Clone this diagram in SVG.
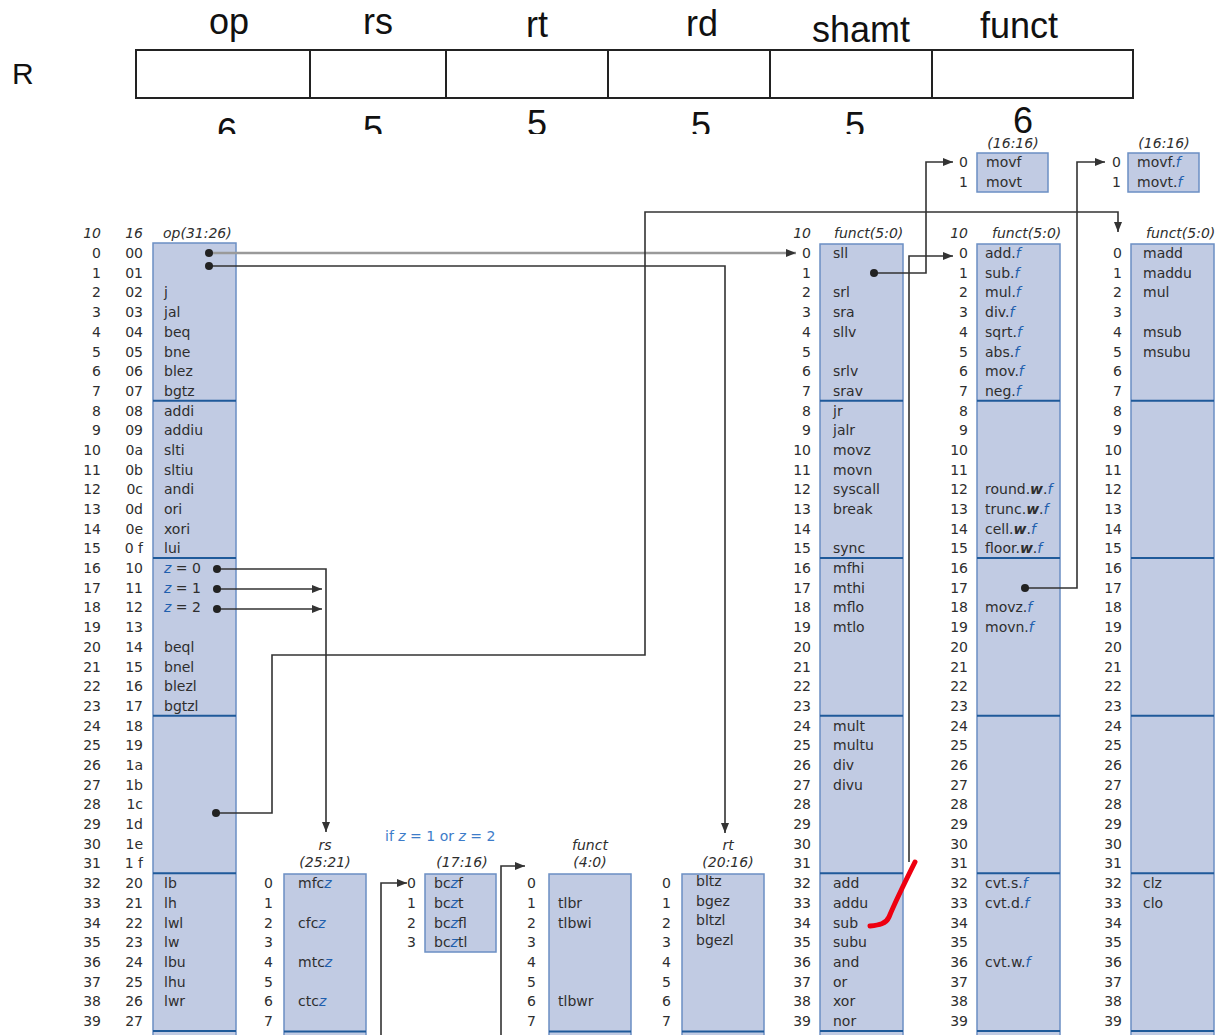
<svg xmlns="http://www.w3.org/2000/svg" width="1215" height="1035" viewBox="0 0 1215 1035">
<defs>
<style>
.t{font-family:"DejaVu Sans","Liberation Sans",sans-serif;font-size:14px;fill:#2e2e2e}
.n{font-family:"DejaVu Sans","Liberation Sans",sans-serif;font-size:14px;fill:#2e2e2e;text-anchor:end}
.h{font-family:"DejaVu Sans","Liberation Sans",sans-serif;font-size:14px;fill:#2e2e2e;font-style:italic}
.m{text-anchor:middle}
.b{fill:#1f5fae;font-style:italic}
.w{font-weight:bold;font-style:italic}
.box{fill:#c1cbe3;stroke:#6b8fc4;stroke-width:1.5}
.dv{stroke:#1f5a9a;stroke-width:2}
.c{fill:none;stroke:#333;stroke-width:1.6}
.big{font-family:"Liberation Sans",Arial,sans-serif;font-size:36px;fill:#111;text-anchor:middle}
</style>
<marker id="ah" viewBox="0 0 10 8" refX="10" refY="4" markerWidth="11" markerHeight="8" orient="auto" markerUnits="userSpaceOnUse"><path d="M0,0 L10,4 L0,8 z" fill="#333"/></marker>
<clipPath id="clipHead"><rect x="0" y="0" width="1215" height="134"/></clipPath>
</defs>
<rect width="1215" height="1035" fill="#fff"/>

<g id="format-R">
<text x="12" y="84" font-family="Liberation Sans, Arial, sans-serif" font-size="30" fill="#111">R</text>
<rect x="136" y="50" width="997" height="48" fill="#fff" stroke="#222" stroke-width="2"/>
<path d="M310,50V98M446,50V98M608,50V98M770,50V98M932,50V98" stroke="#222" stroke-width="2"/>
<text class="big" x="229" y="34">op</text>
<text class="big" x="378" y="34">rs</text>
<text class="big" x="537" y="37">rt</text>
<text class="big" x="702" y="36">rd</text>
<text class="big" x="861" y="42">shamt</text>
<text class="big" x="1019" y="38">funct</text>
<g clip-path="url(#clipHead)">
<text class="big" x="227" y="144">6</text>
<text class="big" x="373" y="142">5</text>
<text class="big" x="537" y="136">5</text>
<text class="big" x="701" y="138">5</text>
<text class="big" x="855" y="138">5</text>
<text class="big" x="1023" y="133">6</text>
</g>
</g>

<g id="op-table">
<rect class="box" x="153" y="243" width="83" height="800"/>
<path class="dv" d="M153,400.7H236M153,558H236M153,715.8H236M153,873.3H236M153,1031H236"/>
<text class="h n" x="101" y="238">10</text>
<text class="h n" x="143" y="238">16</text>
<text class="h" x="163" y="238">op(31:26)</text>
<text class="n"><tspan x="101" y="258">0</tspan><tspan x="101" y="277.7">1</tspan><tspan x="101" y="297.4">2</tspan><tspan x="101" y="317.1">3</tspan><tspan x="101" y="336.8">4</tspan><tspan x="101" y="356.5">5</tspan><tspan x="101" y="376.1">6</tspan><tspan x="101" y="395.8">7</tspan><tspan x="101" y="415.5">8</tspan><tspan x="101" y="435.2">9</tspan><tspan x="101" y="454.9">10</tspan><tspan x="101" y="474.6">11</tspan><tspan x="101" y="494.3">12</tspan><tspan x="101" y="514">13</tspan><tspan x="101" y="533.7">14</tspan><tspan x="101" y="553.4">15</tspan><tspan x="101" y="573">16</tspan><tspan x="101" y="592.7">17</tspan><tspan x="101" y="612.4">18</tspan><tspan x="101" y="632.1">19</tspan><tspan x="101" y="651.8">20</tspan><tspan x="101" y="671.5">21</tspan><tspan x="101" y="691.2">22</tspan><tspan x="101" y="710.9">23</tspan><tspan x="101" y="730.6">24</tspan><tspan x="101" y="750.3">25</tspan><tspan x="101" y="769.9">26</tspan><tspan x="101" y="789.6">27</tspan><tspan x="101" y="809.3">28</tspan><tspan x="101" y="829">29</tspan><tspan x="101" y="848.7">30</tspan><tspan x="101" y="868.4">31</tspan><tspan x="101" y="888.1">32</tspan><tspan x="101" y="907.8">33</tspan><tspan x="101" y="927.5">34</tspan><tspan x="101" y="947.2">35</tspan><tspan x="101" y="966.8">36</tspan><tspan x="101" y="986.5">37</tspan><tspan x="101" y="1006.2">38</tspan><tspan x="101" y="1025.9">39</tspan></text>
<text class="n"><tspan x="143" y="258">00</tspan><tspan x="143" y="277.7">01</tspan><tspan x="143" y="297.4">02</tspan><tspan x="143" y="317.1">03</tspan><tspan x="143" y="336.8">04</tspan><tspan x="143" y="356.5">05</tspan><tspan x="143" y="376.1">06</tspan><tspan x="143" y="395.8">07</tspan><tspan x="143" y="415.5">08</tspan><tspan x="143" y="435.2">09</tspan><tspan x="143" y="454.9">0a</tspan><tspan x="143" y="474.6">0b</tspan><tspan x="143" y="494.3">0c</tspan><tspan x="143" y="514">0d</tspan><tspan x="143" y="533.7">0e</tspan><tspan x="143" y="553.4">0 f</tspan><tspan x="143" y="573">10</tspan><tspan x="143" y="592.7">11</tspan><tspan x="143" y="612.4">12</tspan><tspan x="143" y="632.1">13</tspan><tspan x="143" y="651.8">14</tspan><tspan x="143" y="671.5">15</tspan><tspan x="143" y="691.2">16</tspan><tspan x="143" y="710.9">17</tspan><tspan x="143" y="730.6">18</tspan><tspan x="143" y="750.3">19</tspan><tspan x="143" y="769.9">1a</tspan><tspan x="143" y="789.6">1b</tspan><tspan x="143" y="809.3">1c</tspan><tspan x="143" y="829">1d</tspan><tspan x="143" y="848.7">1e</tspan><tspan x="143" y="868.4">1 f</tspan><tspan x="143" y="888.1">20</tspan><tspan x="143" y="907.8">21</tspan><tspan x="143" y="927.5">22</tspan><tspan x="143" y="947.2">23</tspan><tspan x="143" y="966.8">24</tspan><tspan x="143" y="986.5">25</tspan><tspan x="143" y="1006.2">26</tspan><tspan x="143" y="1025.9">27</tspan></text>
<text class="t"><tspan x="164" y="297.4">j</tspan><tspan x="164" y="317.1">jal</tspan><tspan x="164" y="336.8">beq</tspan><tspan x="164" y="356.5">bne</tspan><tspan x="164" y="376.1">blez</tspan><tspan x="164" y="395.8">bgtz</tspan><tspan x="164" y="415.5">addi</tspan><tspan x="164" y="435.2">addiu</tspan><tspan x="164" y="454.9">slti</tspan><tspan x="164" y="474.6">sltiu</tspan><tspan x="164" y="494.3">andi</tspan><tspan x="164" y="514">ori</tspan><tspan x="164" y="533.7">xori</tspan><tspan x="164" y="553.4">lui</tspan><tspan x="164" y="651.8">beql</tspan><tspan x="164" y="671.5">bnel</tspan><tspan x="164" y="691.2">blezl</tspan><tspan x="164" y="710.9">bgtzl</tspan><tspan x="164" y="888.1">lb</tspan><tspan x="164" y="907.8">lh</tspan><tspan x="164" y="927.5">lwl</tspan><tspan x="164" y="947.2">lw</tspan><tspan x="164" y="966.8">lbu</tspan><tspan x="164" y="986.5">lhu</tspan><tspan x="164" y="1006.2">lwr</tspan></text>
<text class="t" x="164" y="573"><tspan class="b">z</tspan> = 0</text>
<text class="t" x="164" y="592.7"><tspan class="b">z</tspan> = 1</text>
<text class="t" x="164" y="612.4"><tspan class="b">z</tspan> = 2</text>
</g>

<g id="funct-table">
<rect class="box" x="820" y="244" width="83" height="800"/>
<path class="dv" d="M820,400.7H903M820,558H903M820,715.8H903M820,873.3H903M820,1031H903"/>
<text class="h n" x="811" y="238">10</text>
<text class="h" x="834" y="238">funct(5:0)</text>
<text class="n"><tspan x="811" y="258">0</tspan><tspan x="811" y="277.7">1</tspan><tspan x="811" y="297.4">2</tspan><tspan x="811" y="317.1">3</tspan><tspan x="811" y="336.8">4</tspan><tspan x="811" y="356.5">5</tspan><tspan x="811" y="376.1">6</tspan><tspan x="811" y="395.8">7</tspan><tspan x="811" y="415.5">8</tspan><tspan x="811" y="435.2">9</tspan><tspan x="811" y="454.9">10</tspan><tspan x="811" y="474.6">11</tspan><tspan x="811" y="494.3">12</tspan><tspan x="811" y="514">13</tspan><tspan x="811" y="533.7">14</tspan><tspan x="811" y="553.4">15</tspan><tspan x="811" y="573">16</tspan><tspan x="811" y="592.7">17</tspan><tspan x="811" y="612.4">18</tspan><tspan x="811" y="632.1">19</tspan><tspan x="811" y="651.8">20</tspan><tspan x="811" y="671.5">21</tspan><tspan x="811" y="691.2">22</tspan><tspan x="811" y="710.9">23</tspan><tspan x="811" y="730.6">24</tspan><tspan x="811" y="750.3">25</tspan><tspan x="811" y="769.9">26</tspan><tspan x="811" y="789.6">27</tspan><tspan x="811" y="809.3">28</tspan><tspan x="811" y="829">29</tspan><tspan x="811" y="848.7">30</tspan><tspan x="811" y="868.4">31</tspan><tspan x="811" y="888.1">32</tspan><tspan x="811" y="907.8">33</tspan><tspan x="811" y="927.5">34</tspan><tspan x="811" y="947.2">35</tspan><tspan x="811" y="966.8">36</tspan><tspan x="811" y="986.5">37</tspan><tspan x="811" y="1006.2">38</tspan><tspan x="811" y="1025.9">39</tspan></text>
<text class="t"><tspan x="833" y="258">sll</tspan><tspan x="833" y="297.4">srl</tspan><tspan x="833" y="317.1">sra</tspan><tspan x="833" y="336.8">sllv</tspan><tspan x="833" y="376.1">srlv</tspan><tspan x="833" y="395.8">srav</tspan><tspan x="833" y="415.5">jr</tspan><tspan x="833" y="435.2">jalr</tspan><tspan x="833" y="454.9">movz</tspan><tspan x="833" y="474.6">movn</tspan><tspan x="833" y="494.3">syscall</tspan><tspan x="833" y="514">break</tspan><tspan x="833" y="553.4">sync</tspan><tspan x="833" y="573">mfhi</tspan><tspan x="833" y="592.7">mthi</tspan><tspan x="833" y="612.4">mflo</tspan><tspan x="833" y="632.1">mtlo</tspan><tspan x="833" y="730.6">mult</tspan><tspan x="833" y="750.3">multu</tspan><tspan x="833" y="769.9">div</tspan><tspan x="833" y="789.6">divu</tspan><tspan x="833" y="888.1">add</tspan><tspan x="833" y="907.8">addu</tspan><tspan x="833" y="927.5">sub</tspan><tspan x="833" y="947.2">subu</tspan><tspan x="833" y="966.8">and</tspan><tspan x="833" y="986.5">or</tspan><tspan x="833" y="1006.2">xor</tspan><tspan x="833" y="1025.9">nor</tspan></text>
</g>

<g id="funct-f-table">
<rect class="box" x="977" y="244" width="83" height="800"/>
<path class="dv" d="M977,400.7H1060M977,558H1060M977,715.8H1060M977,873.3H1060M977,1031H1060"/>
<text class="h n" x="968" y="238">10</text>
<text class="h" x="992" y="238">funct(5:0)</text>
<text class="n"><tspan x="968" y="258">0</tspan><tspan x="968" y="277.7">1</tspan><tspan x="968" y="297.4">2</tspan><tspan x="968" y="317.1">3</tspan><tspan x="968" y="336.8">4</tspan><tspan x="968" y="356.5">5</tspan><tspan x="968" y="376.1">6</tspan><tspan x="968" y="395.8">7</tspan><tspan x="968" y="415.5">8</tspan><tspan x="968" y="435.2">9</tspan><tspan x="968" y="454.9">10</tspan><tspan x="968" y="474.6">11</tspan><tspan x="968" y="494.3">12</tspan><tspan x="968" y="514">13</tspan><tspan x="968" y="533.7">14</tspan><tspan x="968" y="553.4">15</tspan><tspan x="968" y="573">16</tspan><tspan x="968" y="592.7">17</tspan><tspan x="968" y="612.4">18</tspan><tspan x="968" y="632.1">19</tspan><tspan x="968" y="651.8">20</tspan><tspan x="968" y="671.5">21</tspan><tspan x="968" y="691.2">22</tspan><tspan x="968" y="710.9">23</tspan><tspan x="968" y="730.6">24</tspan><tspan x="968" y="750.3">25</tspan><tspan x="968" y="769.9">26</tspan><tspan x="968" y="789.6">27</tspan><tspan x="968" y="809.3">28</tspan><tspan x="968" y="829">29</tspan><tspan x="968" y="848.7">30</tspan><tspan x="968" y="868.4">31</tspan><tspan x="968" y="888.1">32</tspan><tspan x="968" y="907.8">33</tspan><tspan x="968" y="927.5">34</tspan><tspan x="968" y="947.2">35</tspan><tspan x="968" y="966.8">36</tspan><tspan x="968" y="986.5">37</tspan><tspan x="968" y="1006.2">38</tspan><tspan x="968" y="1025.9">39</tspan></text>
<text class="t" x="985" y="258">add.<tspan class="b">f</tspan></text>
<text class="t" x="985" y="277.7">sub.<tspan class="b">f</tspan></text>
<text class="t" x="985" y="297.4">mul.<tspan class="b">f</tspan></text>
<text class="t" x="985" y="317.1">div.<tspan class="b">f</tspan></text>
<text class="t" x="985" y="336.8">sqrt.<tspan class="b">f</tspan></text>
<text class="t" x="985" y="356.5">abs.<tspan class="b">f</tspan></text>
<text class="t" x="985" y="376.1">mov.<tspan class="b">f</tspan></text>
<text class="t" x="985" y="395.8">neg.<tspan class="b">f</tspan></text>
<text class="t" x="985" y="494.3">round.<tspan class="w">w</tspan>.<tspan class="b">f</tspan></text>
<text class="t" x="985" y="514">trunc.<tspan class="w">w</tspan>.<tspan class="b">f</tspan></text>
<text class="t" x="985" y="533.7">cell.<tspan class="w">w</tspan>.<tspan class="b">f</tspan></text>
<text class="t" x="985" y="553.4">floor.<tspan class="w">w</tspan>.<tspan class="b">f</tspan></text>
<text class="t" x="985" y="612.4">movz.<tspan class="b">f</tspan></text>
<text class="t" x="985" y="632.1">movn.<tspan class="b">f</tspan></text>
<text class="t" x="985" y="888.1">cvt.s.<tspan class="b">f</tspan></text>
<text class="t" x="985" y="907.8">cvt.d.<tspan class="b">f</tspan></text>
<text class="t" x="985" y="966.8">cvt.w.<tspan class="b">f</tspan></text>
</g>

<g id="special2-table">
<rect class="box" x="1131" y="244" width="83" height="800"/>
<path class="dv" d="M1131,400.7H1214M1131,558H1214M1131,715.8H1214M1131,873.3H1214M1131,1031H1214"/>
<text class="h" x="1146" y="238">funct(5:0)</text>
<text class="n"><tspan x="1122" y="258">0</tspan><tspan x="1122" y="277.7">1</tspan><tspan x="1122" y="297.4">2</tspan><tspan x="1122" y="317.1">3</tspan><tspan x="1122" y="336.8">4</tspan><tspan x="1122" y="356.5">5</tspan><tspan x="1122" y="376.1">6</tspan><tspan x="1122" y="395.8">7</tspan><tspan x="1122" y="415.5">8</tspan><tspan x="1122" y="435.2">9</tspan><tspan x="1122" y="454.9">10</tspan><tspan x="1122" y="474.6">11</tspan><tspan x="1122" y="494.3">12</tspan><tspan x="1122" y="514">13</tspan><tspan x="1122" y="533.7">14</tspan><tspan x="1122" y="553.4">15</tspan><tspan x="1122" y="573">16</tspan><tspan x="1122" y="592.7">17</tspan><tspan x="1122" y="612.4">18</tspan><tspan x="1122" y="632.1">19</tspan><tspan x="1122" y="651.8">20</tspan><tspan x="1122" y="671.5">21</tspan><tspan x="1122" y="691.2">22</tspan><tspan x="1122" y="710.9">23</tspan><tspan x="1122" y="730.6">24</tspan><tspan x="1122" y="750.3">25</tspan><tspan x="1122" y="769.9">26</tspan><tspan x="1122" y="789.6">27</tspan><tspan x="1122" y="809.3">28</tspan><tspan x="1122" y="829">29</tspan><tspan x="1122" y="848.7">30</tspan><tspan x="1122" y="868.4">31</tspan><tspan x="1122" y="888.1">32</tspan><tspan x="1122" y="907.8">33</tspan><tspan x="1122" y="927.5">34</tspan><tspan x="1122" y="947.2">35</tspan><tspan x="1122" y="966.8">36</tspan><tspan x="1122" y="986.5">37</tspan><tspan x="1122" y="1006.2">38</tspan><tspan x="1122" y="1025.9">39</tspan></text>
<text class="t"><tspan x="1143" y="258">madd</tspan><tspan x="1143" y="277.7">maddu</tspan><tspan x="1143" y="297.4">mul</tspan><tspan x="1143" y="336.8">msub</tspan><tspan x="1143" y="356.5">msubu</tspan><tspan x="1143" y="888.1">clz</tspan><tspan x="1143" y="907.8">clo</tspan></text>
</g>

<g id="movf-box">
<rect class="box" x="977" y="153" width="71" height="39"/>
<text class="h m" x="1013" y="148">(16:16)</text>
<text class="n"><tspan x="968" y="167">0</tspan><tspan x="968" y="187">1</tspan></text>
<text class="t"><tspan x="986" y="167">movf</tspan><tspan x="986" y="187">movt</tspan></text>
</g>

<g id="movf-f-box">
<rect class="box" x="1128" y="153" width="71" height="39"/>
<text class="h m" x="1164" y="148">(16:16)</text>
<text class="n"><tspan x="1121" y="167">0</tspan><tspan x="1121" y="187">1</tspan></text>
<text class="t" x="1137" y="167">movf.<tspan class="b">f</tspan></text>
<text class="t" x="1137" y="187">movt.<tspan class="b">f</tspan></text>
</g>

<g id="rs-table">
<rect class="box" x="284" y="874" width="82" height="170"/>
<path class="dv" d="M284,1031.5H366"/>
<text class="h m" x="325" y="850">rs</text>
<text class="h m" x="325" y="867">(25:21)</text>
<text class="n"><tspan x="273" y="888.1">0</tspan><tspan x="273" y="907.8">1</tspan><tspan x="273" y="927.5">2</tspan><tspan x="273" y="947.2">3</tspan><tspan x="273" y="966.8">4</tspan><tspan x="273" y="986.5">5</tspan><tspan x="273" y="1006.2">6</tspan><tspan x="273" y="1025.9">7</tspan></text>
<text class="t" x="298" y="888.1">mfc<tspan class="b">z</tspan></text>
<text class="t" x="298" y="927.5">cfc<tspan class="b">z</tspan></text>
<text class="t" x="298" y="966.8">mtc<tspan class="b">z</tspan></text>
<text class="t" x="298" y="1006.2">ctc<tspan class="b">z</tspan></text>
</g>

<g id="bc-table">
<text class="t" x="385" y="841" style="fill:#3d7cc9">if <tspan font-style="italic">z</tspan> = 1 or <tspan font-style="italic">z</tspan> = 2</text>
<rect class="box" x="425" y="874" width="71" height="78"/>
<text class="h m" x="462" y="867">(17:16)</text>
<text class="n"><tspan x="416" y="888.1">0</tspan><tspan x="416" y="907.8">1</tspan><tspan x="416" y="927.5">2</tspan><tspan x="416" y="947.2">3</tspan></text>
<text class="t" x="434" y="888.1">bc<tspan class="b">z</tspan>f</text>
<text class="t" x="434" y="907.8">bc<tspan class="b">z</tspan>t</text>
<text class="t" x="434" y="927.5">bc<tspan class="b">z</tspan>fl</text>
<text class="t" x="434" y="947.2">bc<tspan class="b">z</tspan>tl</text>
</g>

<g id="funct40-table">
<rect class="box" x="549" y="874" width="82" height="170"/>
<path class="dv" d="M549,1031.5H631"/>
<text class="h m" x="590" y="850">funct</text>
<text class="h m" x="590" y="867">(4:0)</text>
<text class="n"><tspan x="536" y="888.1">0</tspan><tspan x="536" y="907.8">1</tspan><tspan x="536" y="927.5">2</tspan><tspan x="536" y="947.2">3</tspan><tspan x="536" y="966.8">4</tspan><tspan x="536" y="986.5">5</tspan><tspan x="536" y="1006.2">6</tspan><tspan x="536" y="1025.9">7</tspan></text>
<text class="t"><tspan x="558" y="907.8">tlbr</tspan><tspan x="558" y="927.5">tlbwi</tspan><tspan x="558" y="1006.2">tlbwr</tspan></text>
</g>

<g id="rt-table">
<rect class="box" x="682" y="874" width="82" height="170"/>
<path class="dv" d="M682,1031.5H764"/>
<text class="h m" x="728" y="850">rt</text>
<text class="h m" x="728" y="867">(20:16)</text>
<text class="n"><tspan x="671" y="888.1">0</tspan><tspan x="671" y="907.8">1</tspan><tspan x="671" y="927.5">2</tspan><tspan x="671" y="947.2">3</tspan><tspan x="671" y="966.8">4</tspan><tspan x="671" y="986.5">5</tspan><tspan x="671" y="1006.2">6</tspan><tspan x="671" y="1025.9">7</tspan></text>
<text class="t"><tspan x="696" y="886">bltz</tspan><tspan x="696" y="905.7">bgez</tspan><tspan x="696" y="925.4">bltzl</tspan><tspan x="696" y="945.1">bgezl</tspan></text>
</g>

<g id="connectors">
<path d="M209,253H796" fill="none" stroke="#9a9a9a" stroke-width="2.6" marker-end="url(#ah)"/>
<path class="c" d="M209,266H725V833" marker-end="url(#ah)"/>
<path class="c" d="M217,569H326V832" marker-end="url(#ah)"/>
<path class="c" d="M217,589H322" marker-end="url(#ah)"/>
<path class="c" d="M217,609H322" marker-end="url(#ah)"/>
<path class="c" d="M216,813H272V655H645V212H1118V232" marker-end="url(#ah)"/>
<path class="c" d="M874,273H926V162H953" marker-end="url(#ah)"/>
<path class="c" d="M909,862V256H953" marker-end="url(#ah)"/>
<path class="c" d="M1025,588H1077V162H1105" marker-end="url(#ah)"/>
<path class="c" d="M381,1035V883H407" marker-end="url(#ah)"/>
<path class="c" d="M501,1035V866H525" marker-end="url(#ah)"/>
<g fill="#222">
<circle cx="209" cy="253" r="4"/><circle cx="209" cy="266" r="4"/>
<circle cx="217" cy="569" r="4"/><circle cx="217" cy="589" r="4"/><circle cx="217" cy="609" r="4"/>
<circle cx="216" cy="813" r="4"/><circle cx="874" cy="273" r="4"/><circle cx="1025" cy="588" r="4"/>
</g>
</g>

<path d="M915,862C906,880 896,900 889,917C886,924 879,925 870,926" fill="none" stroke="#ee0010" stroke-width="5" stroke-linecap="round"/>
</svg>
